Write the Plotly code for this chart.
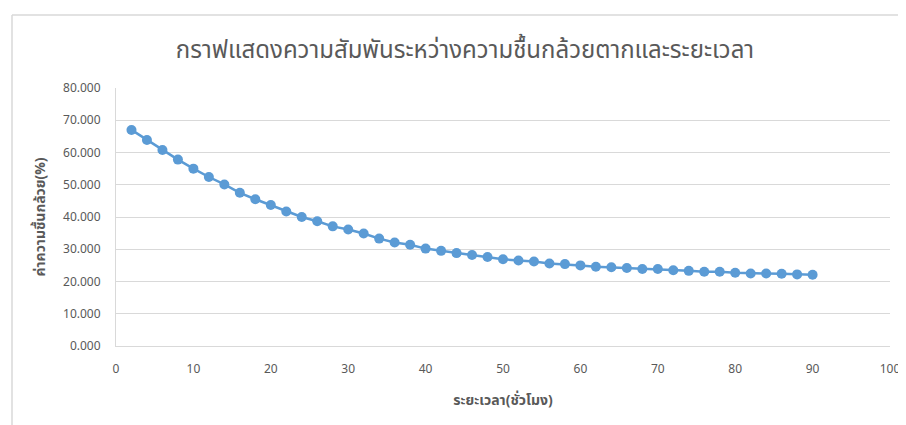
import plotly.graph_objects as go

hours = list(range(2, 92, 2))
moisture = [67.0, 63.9, 60.8, 57.8, 55.0, 52.4, 50.1, 47.5, 45.5, 43.7,
            41.7, 40.0, 38.7, 37.1, 36.1, 34.9, 33.3, 32.1, 31.4, 30.2,
            29.5, 28.8, 28.2, 27.6, 26.9, 26.5, 26.2, 25.6, 25.4, 25.0,
            24.6, 24.4, 24.2, 23.9, 23.9, 23.5, 23.3, 23.0, 23.0, 22.7,
            22.5, 22.5, 22.4, 22.2, 22.1]

x_ticks = list(range(0, 101, 10))
y_ticks = list(range(0, 81, 10))

title = "กราฟแสดงความสัมพันระหว่างความชื้นกล้วยตากและระยะเวลา"
x_title = "ระยะเวลา(ชั่วโมง)"
y_title = "ค่าความชื้นกล้วย(%)"

grey = "#595959"
grid = "#d9d9d9"
font_family = "Noto Sans Thai, Noto Sans, Liberation Sans, sans-serif"

# page has an 8px body margin, so the figure is a bit smaller than the window
W, H = 898, 417

fig = go.Figure()
fig.add_trace(go.Scatter(
    x=hours, y=moisture, mode="lines+markers",
    line=dict(color="#5B9BD5", width=2.5),
    marker=dict(color="#5B9BD5", size=10),
    showlegend=False,
))

fig.update_layout(
    width=W, height=H,
    margin=dict(l=108, r=16, t=80, b=79, autoexpand=False),
    plot_bgcolor="white", paper_bgcolor="white",
    font=dict(family=font_family, color=grey, size=12),
    title=dict(text=title, x=457 / W, xanchor="center", y=1 - 42 / H,
               yanchor="middle", automargin=False,
               font=dict(size=24, color=grey)),
    xaxis=dict(range=[0, 100], tickvals=x_ticks, showgrid=False,
               showline=True, linecolor=grid, linewidth=1, zeroline=False,
               ticks="", ticklabelstandoff=12, automargin=False,
               title=dict(text="<b>" + x_title + "</b>", standoff=17,
                          font=dict(size=14, color=grey))),
    yaxis=dict(range=[0, 80], tickvals=y_ticks, tickformat=".3f",
               gridcolor=grid, gridwidth=1, showline=True, linecolor=grid,
               zeroline=False, ticks="", ticklabelstandoff=12,
               automargin=False,
               title=dict(text="<b>" + y_title + "</b>", standoff=14,
                          font=dict(size=14, color=grey))),
)

# chart frame (left and top edges visible in the reference)
fx = (4 - 108) / 774
fy = (338 - 7) / 258
fig.add_shape(type="line", xref="paper", yref="paper",
              x0=fx, x1=fx, y0=-0.4, y1=fy,
              line=dict(color=grid, width=1.5))
fig.add_shape(type="line", xref="paper", yref="paper",
              x0=fx, x1=1.1, y0=fy, y1=fy,
              line=dict(color=grid, width=1.5))

fig.write_html("out.html")
